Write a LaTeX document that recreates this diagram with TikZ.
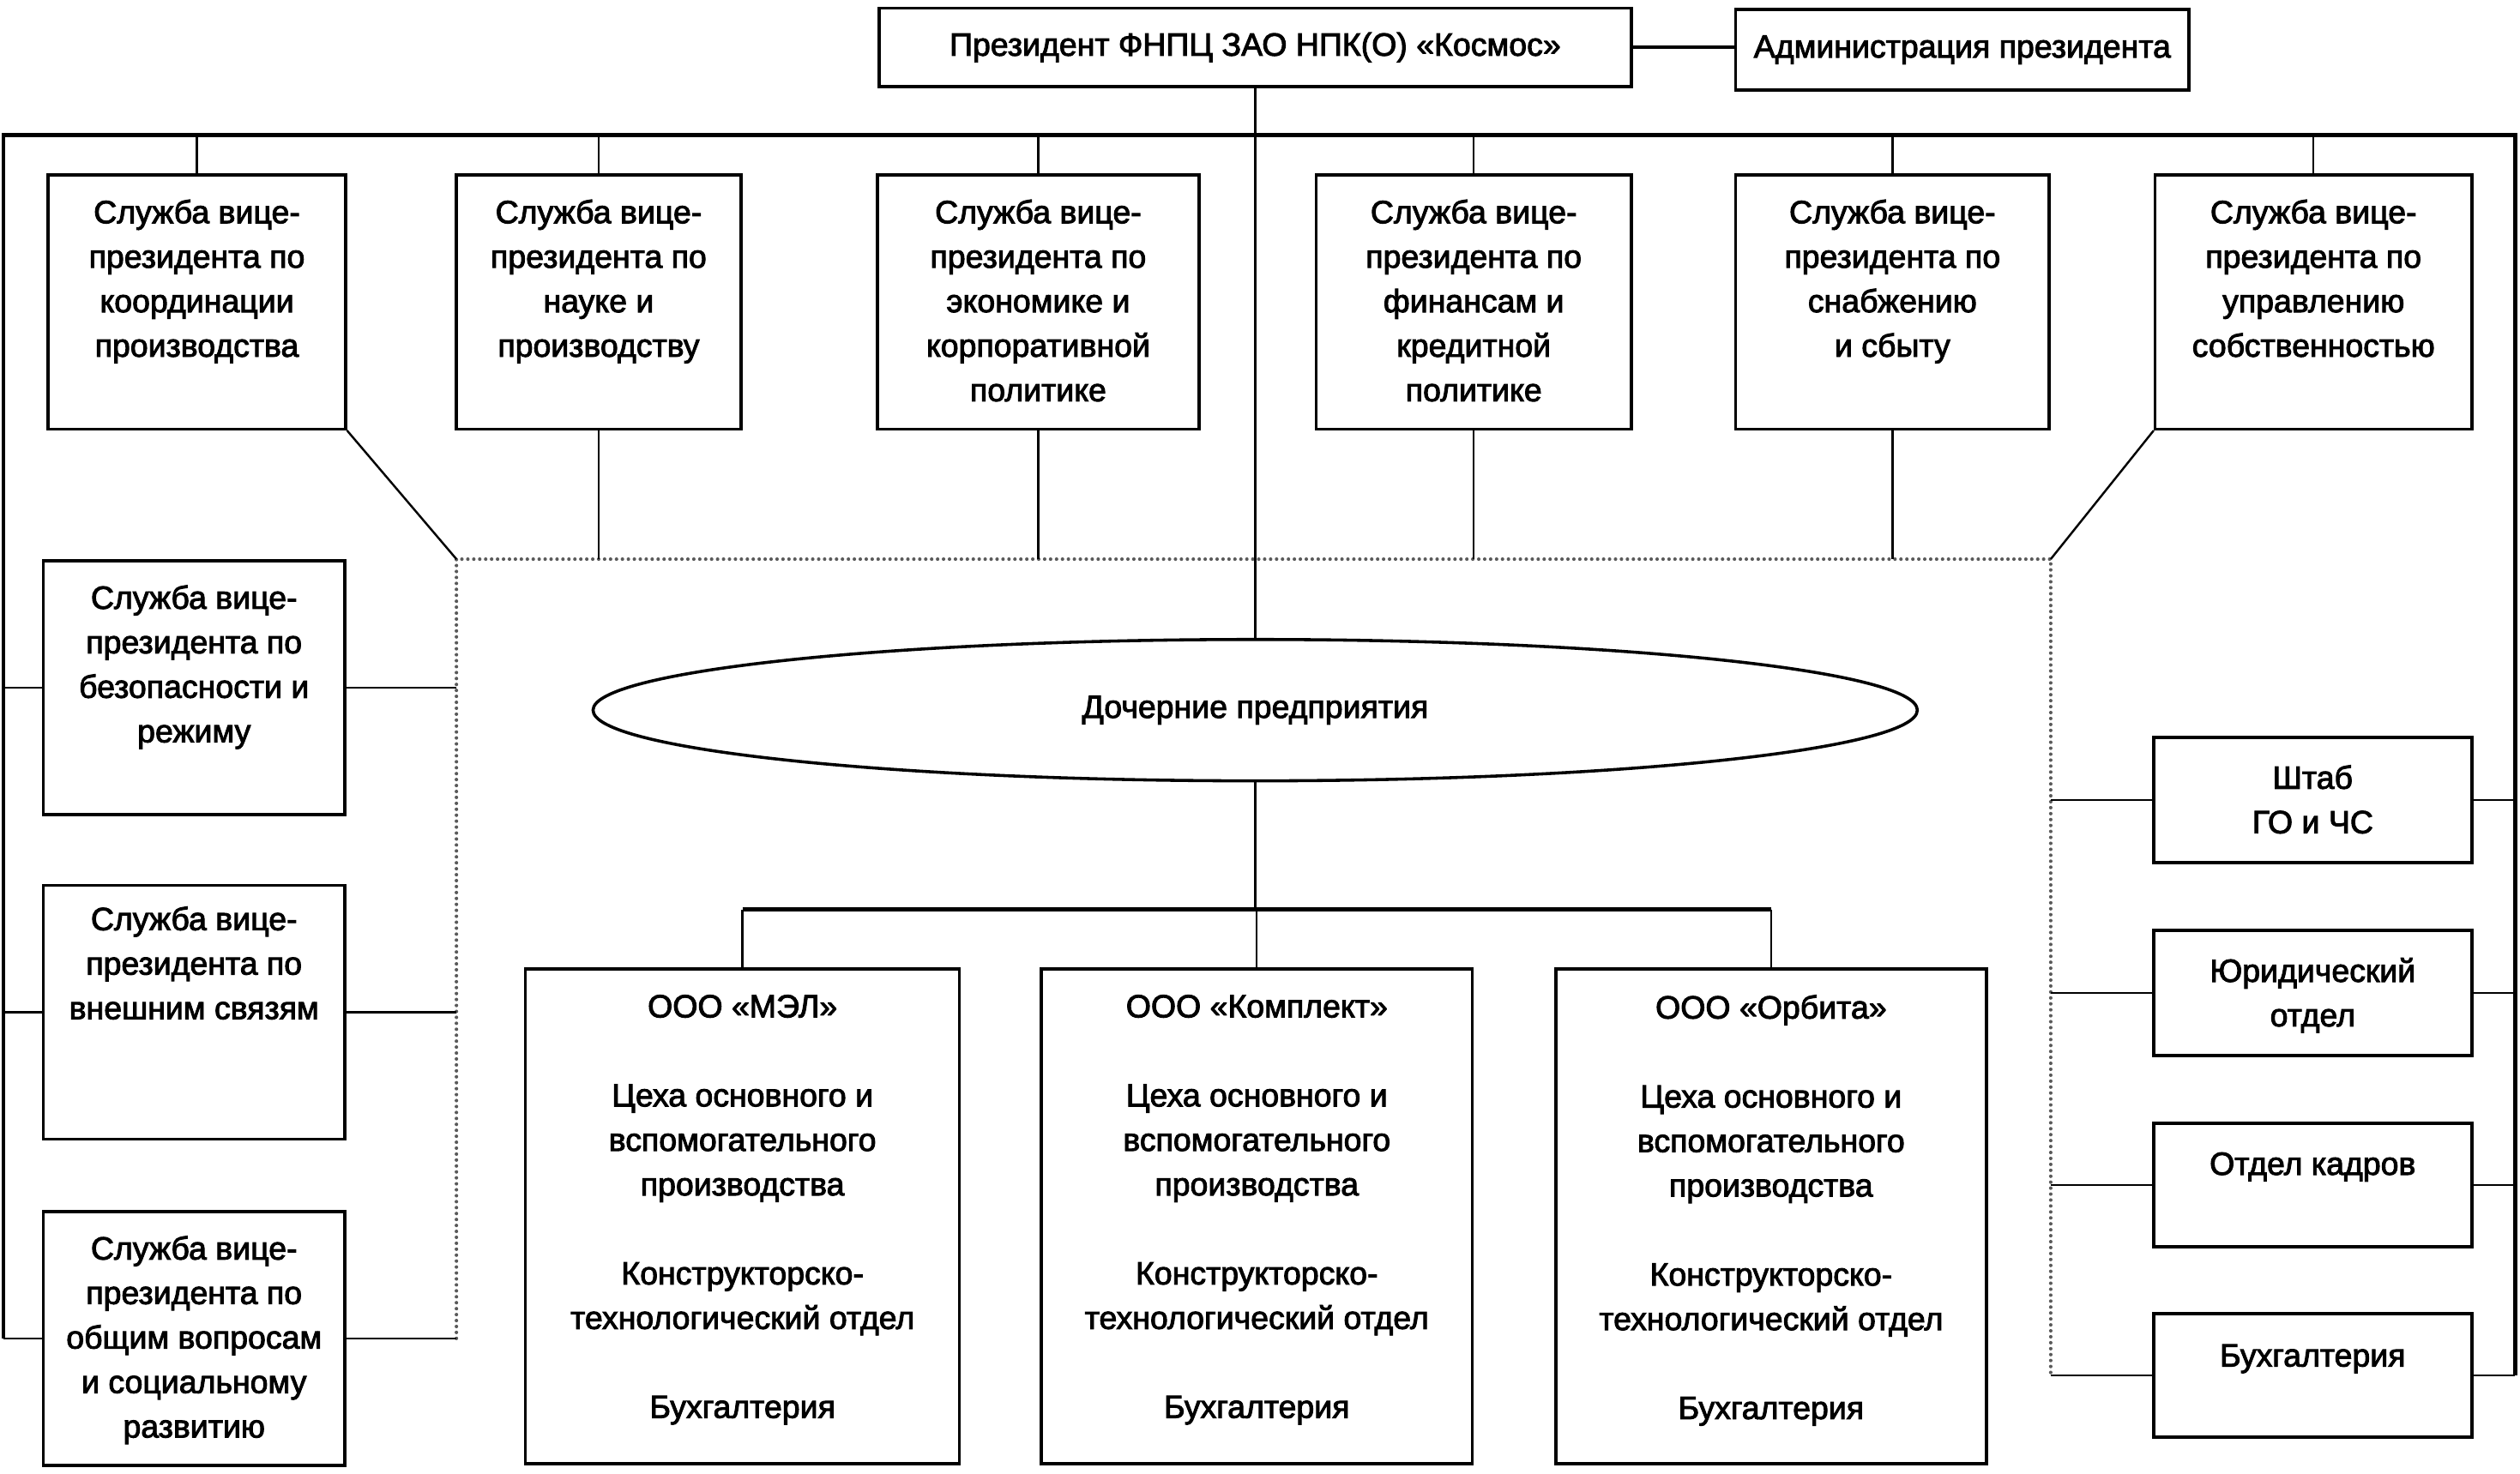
\documentclass[tikz,border=0pt]{standalone}
\usepackage{fontspec}
\setmainfont{Liberation Sans}[FakeBold=2.5]
\usetikzlibrary{shapes.geometric}
\newcommand{\dfont}{\fontsize{20}{27.7}\selectfont}
\definecolor{dotgray}{RGB}{90,90,90}
\tikzset{
  box/.style={draw, line width=1.9pt, inner sep=0pt},
  txt/.style={font=\dfont, align=center, inner sep=0pt, anchor=north},
  conn/.style={line width=1.3pt},
  bus/.style={line width=2.3pt},
  dotline/.style={draw=dotgray, line width=2.2pt, line cap=round, dash pattern=on 0pt off 3.7pt},
}
\begin{document}
\begin{tikzpicture}[x=1pt, y=-1pt]
\useasboundingbox (0,0) rectangle (1568,917.4);
\fill[white] (0,0) rectangle (1568,917.4);

% top
\node[box, font=\dfont, minimum width=468pt, minimum height=49pt] (pres) at (781,29.5) {Президент ФНПЦ ЗАО НПК(О) «Космос»};
\node[box, font=\dfont, minimum width=282pt, minimum height=50pt] (adm) at (1221,31) {Администрация президента};
\draw[bus] (pres.east) -- (pres.east -| adm.west);

% top row boxes
\node[box, minimum width=185pt, minimum height=158pt] (b1) at (122.5,188) {};
\node[box, minimum width=177pt, minimum height=158pt] (b2) at (372.5,188) {};
\node[box, minimum width=200pt, minimum height=158pt] (b3) at (646,188) {};
\node[box, minimum width=196pt, minimum height=158pt] (b4) at (917,188) {};
\node[box, minimum width=195pt, minimum height=158pt] (b5) at (1177.5,188) {};
\node[box, minimum width=197pt, minimum height=158pt] (b6) at (1439.5,188) {};
\node[txt] (b1t) at ([yshift=-16pt]b1.north) {Служба вице-\\президента по\\координации\\производства};
\node[txt] (b2t) at ([yshift=-16pt]b2.north) {Служба вице-\\президента по\\науке и\\производству};
\node[txt] (b3t) at ([yshift=-16pt]b3.north) {Служба вице-\\президента по\\экономике и\\корпоративной\\политике};
\node[txt] (b4t) at ([yshift=-16pt]b4.north) {Служба вице-\\президента по\\финансам и\\кредитной\\политике};
\node[txt] (b5t) at ([yshift=-16pt]b5.north) {Служба вице-\\президента по\\снабжению\\и сбыту};
\node[txt] (b6t) at ([yshift=-16pt]b6.north) {Служба вице-\\президента по\\управлению\\собственностью};

% left boxes
\node[box, minimum width=187.5pt, minimum height=158pt] (l1) at (120.75,428) {};
\node[box, minimum width=187.5pt, minimum height=158pt] (l2) at (120.75,630) {};
\node[box, minimum width=187.5pt, minimum height=158pt] (l3) at (120.75,833) {};
\node[txt] (l1t) at ([yshift=-16pt]l1.north) {Служба вице-\\президента по\\безопасности и\\режиму};
\node[txt] (l2t) at ([yshift=-14pt]l2.north) {Служба вице-\\президента по\\внешним связям};
\node[txt] (l3t) at ([yshift=-16pt]l3.north) {Служба вице-\\президента по\\общим вопросам\\и социальному\\развитию};

% right boxes
\node[box, minimum width=198pt, minimum height=78pt] (r1) at (1439,498) {};
\node[box, minimum width=198pt, minimum height=78pt] (r2) at (1439,618) {};
\node[box, minimum width=198pt, minimum height=77pt] (r3) at (1439,737.5) {};
\node[box, minimum width=198pt, minimum height=77pt] (r4) at (1439,856) {};
\node[txt] (r1t) at ([yshift=-18pt]r1.north) {Штаб\\ГО и ЧС};
\node[txt] (r2t) at ([yshift=-18pt]r2.north) {Юридический\\отдел};
\node[txt] (r3t) at ([yshift=-19pt]r3.north) {Отдел кадров};
\node[txt] (r4t) at ([yshift=-20pt]r4.north) {Бухгалтерия};

% ellipse
\node[draw, ellipse, line width=1.9pt, inner sep=0pt, minimum width=824pt, minimum height=88pt, font=\dfont] (ell) at (781,442) {Дочерние предприятия};

% bottom boxes
\node[box, minimum width=270pt, minimum height=308pt] (m1) at (462,757) {};
\node[box, minimum width=268pt, minimum height=308pt] (m2) at (782,757) {};
\node[box, minimum width=268pt, minimum height=308pt] (m3) at (1102,757) {};
\node[txt] (m1t) at ([yshift=-17pt]m1.north) {ООО «МЭЛ»\\[27.7pt]Цеха основного и\\вспомогательного\\производства\\[27.7pt]Конструкторско-\\технологический отдел\\[27.7pt]Бухгалтерия};
\node[txt] (m2t) at ([yshift=-17pt]m2.north) {ООО «Комплект»\\[27.7pt]Цеха основного и\\вспомогательного\\производства\\[27.7pt]Конструкторско-\\технологический отдел\\[27.7pt]Бухгалтерия};
\node[txt] (m3t) at ([yshift=-17pt]m3.north) {ООО «Орбита»\\[27.7pt]Цеха основного и\\вспомогательного\\производства\\[27.7pt]Конструкторско-\\технологический отдел\\[27.7pt]Бухгалтерия};

% coordinates
\coordinate (busTL) at (2,84);
\coordinate (busTR) at (1565,84);
\coordinate (dTL) at (284,348);
\coordinate (dTR) at (1276,348);
\coordinate (sub) at (781,566);

% dotted frame
\draw[dotline] (l3.east -| dTL) -- (dTL) -- (dTR) -- (r4.west -| dTR);

% main bus
\draw[bus] (l3.west -| busTL) -- (busTL) -- (busTR) -- (r4.east -| busTR);
\draw[conn] (pres.south) -- (ell.north);
\foreach \b in {b1,b2,b3,b4,b5,b6} \draw[conn] (\b.north |- busTL) -- (\b.north);

\draw[conn] (b1.south east) -- (dTL);
\draw[conn] (b6.south west) -- (dTR);
\foreach \b in {b2,b3,b4,b5} \draw[conn] (\b.south) -- (\b.south |- dTL);

% left connectors
\foreach \l in {l1,l2,l3} {
  \draw[conn] (\l.west -| busTL) -- (\l.west);
  \draw[conn] (\l.east) -- (\l.east -| dTL);
}
% right connectors
\foreach \r in {r1,r2,r3,r4} {
  \draw[conn] (\r.west -| dTR) -- (\r.west);
  \draw[conn] (\r.east) -- (\r.east -| busTR);
}

% subsidiaries
\draw[conn] (ell.south) -- (sub);
\draw[bus] (m1.north |- sub) -- (m3.north |- sub);
\foreach \m in {m1,m2,m3} \draw[conn] (\m.north |- sub) -- (\m.north);
\end{tikzpicture}
\end{document}
